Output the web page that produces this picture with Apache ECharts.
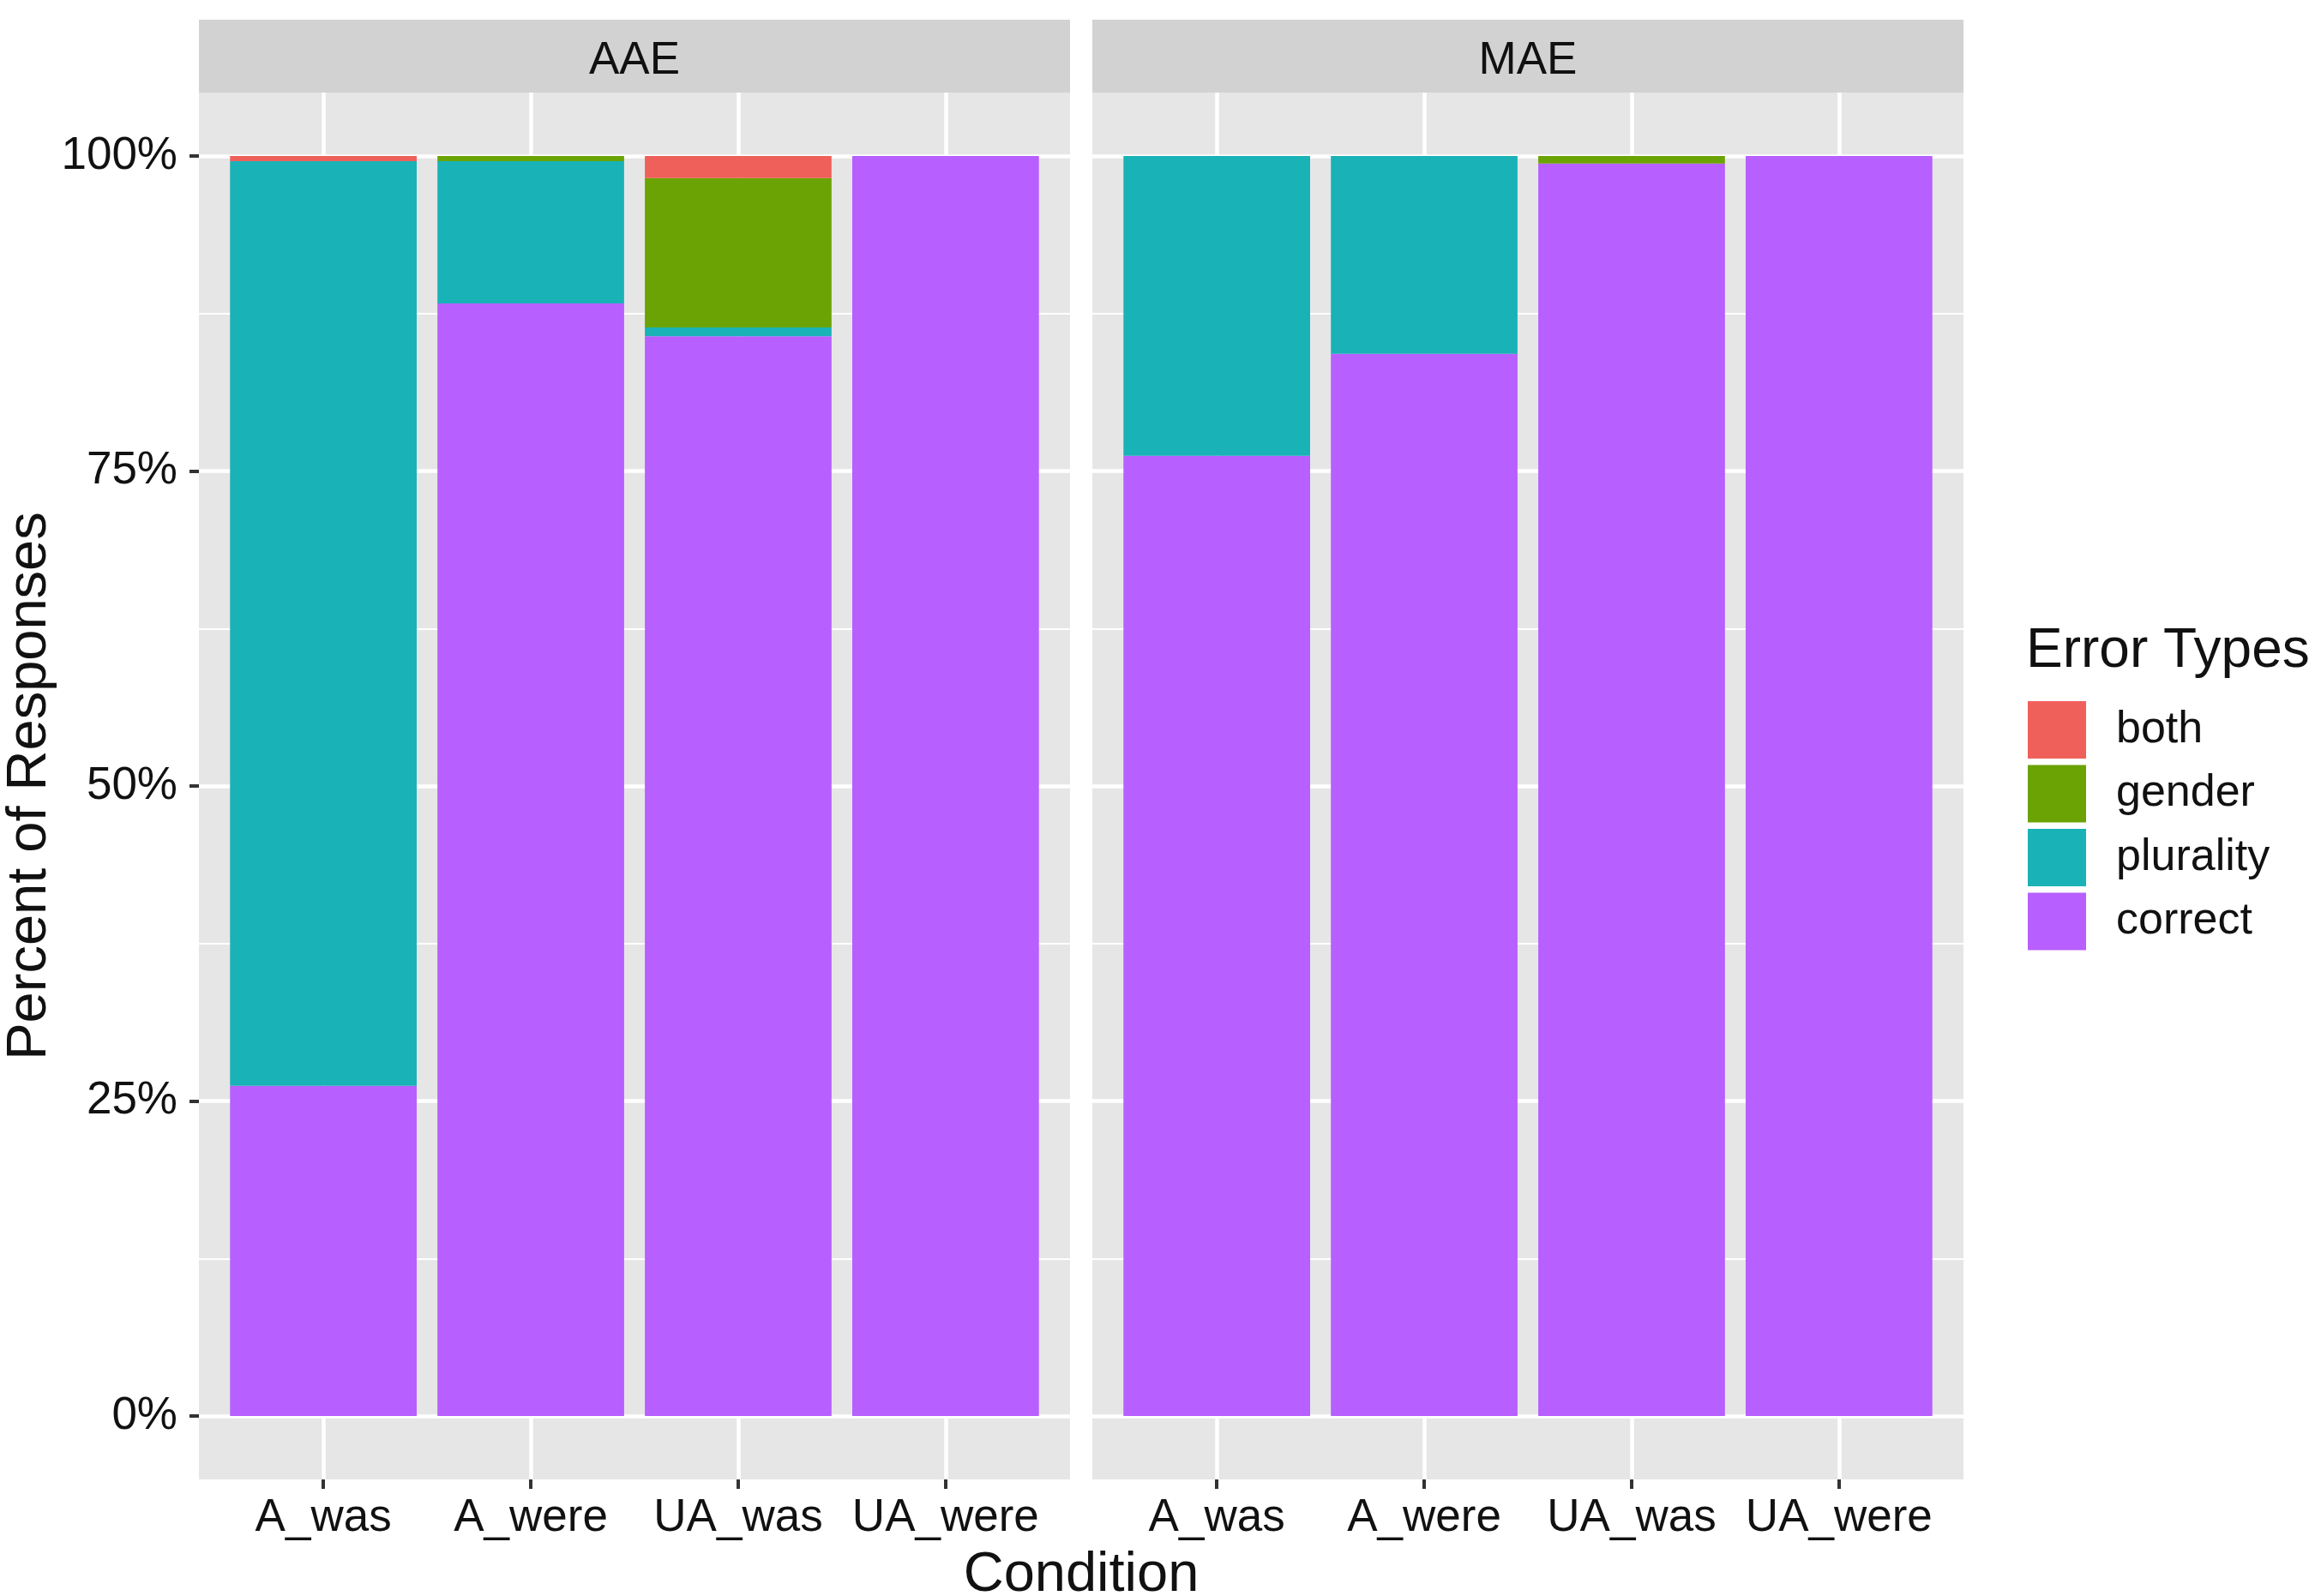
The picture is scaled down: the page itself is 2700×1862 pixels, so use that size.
<!DOCTYPE html>
<html><head><meta charset="utf-8">
<script src="https://cdn.jsdelivr.net/npm/echarts@6/dist/echarts.min.js"></script>
<style>html,body{margin:0;padding:0;background:#fff}#c{width:2700px;height:1862px}</style>
</head><body><div id="c"></div>
<script>
// ---- data ----
const categories = ['A_was', 'A_were', 'UA_was', 'UA_were'];
const facets = ['AAE', 'MAE'];
const errorTypes = ['both', 'gender', 'plurality', 'correct'];
const yTicks = [0, 25, 50, 75, 100];

const aaeCorrect   = [26.2, 88.3, 85.7, 100];
const aaePlurality = [73.4, 11.3, 0.7, 0];
const aaeGender    = [0, 0.4, 11.85, 0];
const aaeBoth      = [0.4, 0, 1.75, 0];

const maeCorrect   = [76.2, 84.3, 99.4, 100];
const maePlurality = [23.8, 15.7, 0, 0];
const maeGender    = [0, 0, 0.6, 0];
const maeBoth      = [0, 0, 0, 0];

const facetData = [
  { correct: aaeCorrect, plurality: aaePlurality, gender: aaeGender, both: aaeBoth },
  { correct: maeCorrect, plurality: maePlurality, gender: maeGender, both: maeBoth }
];

// ---- style ----
const colors = { both: '#F0605A', gender: '#6BA304', plurality: '#19B2B7', correct: '#B75FFF' };
const FONT = '"Liberation Sans", Arial, sans-serif';
const panelBg = '#E6E6E6';
const stripBg = '#D2D2D2';
const textColor = '#111111';

const panelLefts = [232, 1274];
const panelW = 1016, panelTop = 108, panelH = 1618;
const innerTop = 182, innerH = 1470;
const unit = panelW / 4.2;

const grids = [], xAxes = [], yAxes = [], series = [], graphics = [];

panelLefts.forEach((L, i) => {
  const base = i * 4;
  // 0: panel background
  grids.push({ left: L, top: panelTop, width: panelW, height: panelH, show: true, backgroundColor: panelBg, borderWidth: 0 });
  xAxes.push({ gridIndex: base, type: 'value', show: false });
  yAxes.push({ gridIndex: base, type: 'value', show: false });
  // 1: horizontal gridlines + y axis
  grids.push({ left: L, top: innerTop, width: panelW, height: innerH });
  xAxes.push({ gridIndex: base + 1, type: 'value', show: false });
  yAxes.push({
    gridIndex: base + 1, type: 'value', min: 0, max: 100, interval: 25,
    axisLine: { show: false },
    axisTick: { show: i === 0, length: 11, inside: false, lineStyle: { color: '#333', width: 4 } },
    axisLabel: { show: i === 0, margin: 25, fontSize: 53, fontFamily: FONT, color: textColor,
      formatter: v => (yTicks.indexOf(v) >= 0 ? v + '%' : '') },
    splitLine: { show: true, lineStyle: { color: '#ffffff', width: 4.5 } },
    minorTick: { show: false, splitNumber: 2 },
    minorSplitLine: { show: true, lineStyle: { color: '#ffffff', width: 2.2 } },
    name: i === 0 ? 'Percent of Responses' : '',
    nameLocation: 'middle', nameGap: 164,
    nameTextStyle: { fontSize: 65, fontFamily: FONT, color: textColor }
  });
  // 2: vertical gridlines + x axis ticks/labels
  grids.push({ left: L + 0.6 * unit, top: panelTop, width: 3 * unit, height: panelH });
  xAxes.push({
    gridIndex: base + 2, type: 'category', data: categories, boundaryGap: false,
    axisLine: { show: false },
    axisTick: { show: true, length: 11, inside: false, lineStyle: { color: '#333', width: 4 } },
    axisLabel: { interval: 0, showMinLabel: true, showMaxLabel: true, margin: 19, fontSize: 53, fontFamily: FONT, color: textColor },
    splitLine: { show: true, lineStyle: { color: '#ffffff', width: 4.5 } }
  });
  yAxes.push({ gridIndex: base + 2, type: 'value', show: false });
  // 3: bars
  grids.push({ left: L + 0.1 * unit, top: innerTop, width: 4 * unit, height: innerH });
  xAxes.push({ gridIndex: base + 3, type: 'category', data: categories, show: false });
  yAxes.push({ gridIndex: base + 3, type: 'value', min: 0, max: 100, show: false });

  ['correct', 'plurality', 'gender', 'both'].forEach(t => {
    series.push({
      type: 'bar', name: t, stack: 'stack' + i,
      xAxisIndex: base + 3, yAxisIndex: base + 3,
      data: facetData[i][t], barWidth: '90%',
      itemStyle: { color: colors[t] },
      emphasis: { disabled: true }
    });
  });

  // facet strip
  graphics.push({
    type: 'rect', shape: { x: L, y: 23, width: panelW, height: panelTop - 23 },
    style: { fill: stripBg }, silent: true, z: -10
  });
  graphics.push({
    type: 'text', x: L + panelW / 2, y: 71,
    style: { text: facets[i], fontSize: 53, fontFamily: FONT, fill: textColor,
      align: 'center', verticalAlign: 'middle', textAlign: 'center', textVerticalAlign: 'middle' },
    silent: true
  });
});

// x-axis title
graphics.push({
  type: 'text', x: (panelLefts[0] + panelLefts[1] + panelW) / 2, y: 1838,
  style: { text: 'Condition', fontSize: 65, fontFamily: FONT, fill: textColor,
    align: 'center', verticalAlign: 'middle', textAlign: 'center', textVerticalAlign: 'middle' },
  silent: true
});
// legend title
graphics.push({
  type: 'text', x: 2363, y: 760,
  style: { text: 'Error Types', fontSize: 64, fontFamily: FONT, fill: textColor,
    align: 'left', verticalAlign: 'middle', textAlign: 'left', textVerticalAlign: 'middle' },
  silent: true
});

const chart = echarts.init(document.getElementById('c'), null, { renderer: 'canvas' });
chart.setOption({
  animation: false,
  backgroundColor: '#ffffff',
  grid: grids,
  xAxis: xAxes,
  yAxis: yAxes,
  series: series,
  legend: {
    data: errorTypes, orient: 'vertical', left: 2365, top: 818, padding: 0,
    itemWidth: 68, itemHeight: 67, itemGap: 7.5, icon: 'rect', selectedMode: false,
    textStyle: { fontSize: 52, fontFamily: FONT, color: textColor, padding: [14, 0, 0, 30] }
  },
  graphic: graphics
});
</script>
</body></html>
